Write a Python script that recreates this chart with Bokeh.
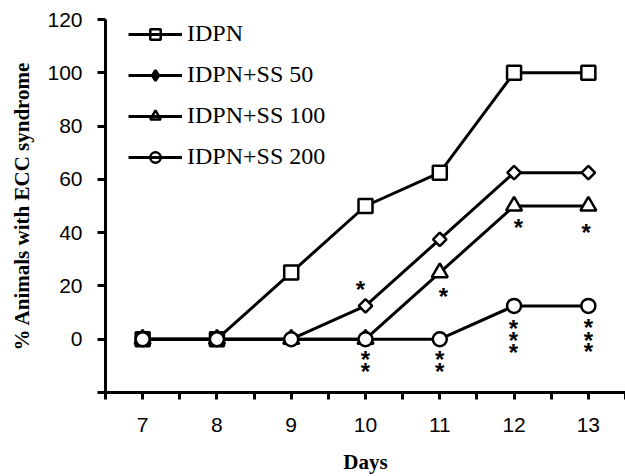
import math
from bokeh.plotting import figure
from bokeh.models import Range1d, FixedTicker, Legend, LegendItem, ColumnDataSource
from bokeh.core.properties import value
from bokeh.embed import file_html
from bokeh.resources import INLINE

# ---- data ----
days = [7, 8, 9, 10, 11, 12, 13]
idpn = [0, 0, 25, 50, 62.5, 100, 100]
ss50 = [0, 0, 0, 12.5, 37.5, 62.5, 62.5]
ss100 = [0, 0, 0, 0, 25, 50, 50]
ss200 = [0, 0, 0, 0, 0, 12.5, 12.5]
series_names = ["IDPN", "IDPN+SS 50", "IDPN+SS 100", "IDPN+SS 200"]

# significance asterisks (x, y)
sig_x = [9.93, 10, 10, 11.05, 11, 11, 12.06, 11.99, 11.99, 11.99, 12.97, 13, 13, 13]
sig_y = [19.3, -6.7, -11.2, 16.8, -6.7, -11.2, 42.6, 4.9, 0.3, -4.4, 40.9, 5.2, 0.3, -3.9]
sig_t = ["*"] * len(sig_x)

y_ticks = [-20, 0, 20, 40, 60, 80, 100, 120]
x_ticks = [7, 8, 9, 10, 11, 12, 13]
x_minor = [6.5, 7.5, 8.5, 9.5, 10.5, 11.5, 12.5, 13.5]

p = figure(width=625, height=476, output_backend="svg", toolbar_location=None,
           x_range=Range1d(6.5, 13.5), y_range=Range1d(-20, 120),
           min_border_left=105, min_border_right=0, min_border_top=19, min_border_bottom=83)
p.outline_line_color = None
p.grid.visible = False
p.background_fill_color = "white"
p.border_fill_color = "white"

# axes
for ax in (p.xaxis[0], p.yaxis[0]):
    ax.axis_line_width = 3
    ax.axis_line_color = "black"
    ax.major_tick_line_width = 3
    ax.minor_tick_line_width = 3
    ax.major_tick_in = 0
    ax.minor_tick_in = 0
    ax.major_label_text_font = "Liberation Sans"
    ax.major_label_text_font_size = "21px"
    ax.major_label_text_color = "black"
    ax.axis_label_text_font = "Liberation Serif"
    ax.axis_label_text_font_style = "bold"
    ax.axis_label_text_font_size = "21px"
    ax.axis_label_text_color = "black"

p.xaxis.ticker = FixedTicker(ticks=x_ticks, minor_ticks=x_minor)
p.xaxis.major_tick_out = 7
p.xaxis.minor_tick_out = 7
p.xaxis.major_label_standoff = 18
p.xaxis.axis_label = "Days"
p.xaxis.axis_label_standoff = 15

p.yaxis.ticker = FixedTicker(ticks=y_ticks, minor_ticks=[])
p.yaxis.major_tick_out = 8
p.yaxis.minor_tick_out = 0
p.yaxis.major_label_standoff = 15
p.yaxis.major_label_overrides = {-20: ""}
p.yaxis.axis_label = "% Animals with ECC syndrome"
p.yaxis.axis_label_standoff = 10

# series
all_vals = [idpn, ss50, ss100, ss200]
plot_markers = [("square", 14, 0.0), ("square", 9.5, math.pi / 4), ("triangle", 16, 0.0), ("circle", 14, 0.0)]
for vals in all_vals:
    src = ColumnDataSource(dict(x=days, y=vals))
    p.line("x", "y", source=src, line_color="black", line_width=3)
for vals, (mk, sz, ang) in zip(all_vals, plot_markers):
    src = ColumnDataSource(dict(x=days, y=vals))
    p.scatter("x", "y", source=src, marker=mk, size=sz, angle=ang,
              fill_color="white", line_color="black", line_width=2.5)

# significance marks
p.text(x=sig_x, y=sig_y, text=sig_t, text_align="center", text_baseline="middle",
       text_font=value("Liberation Sans"), text_font_style="bold",
       text_font_size="24px", text_color="black", y_offset=2)

# legend (style differs from the plotted markers)
legend_markers = [("square", None), ("diamond", "black"), ("triangle", None), ("circle", None)]
items = []
for name, (mk, fc) in zip(series_names, legend_markers):
    hidden = ColumnDataSource(dict(x=[float("nan")], y=[float("nan")]))
    lr = p.line("x", "y", source=hidden, line_color="black", line_width=3)
    sr = p.scatter("x", "y", source=hidden, marker=mk, fill_color=fc if fc else "white",
                   fill_alpha=1 if fc else 0, line_color="black", line_width=2.5)
    items.append(LegendItem(label=name, renderers=[lr, sr]))

legend = Legend(items=items, location=(23, 222), orientation="vertical",
                glyph_width=54, glyph_height=26, label_height=26, spacing=14,
                padding=0, margin=0, label_standoff=5,
                label_text_font="Liberation Serif", label_text_font_size="24px",
                label_text_color="black", label_text_baseline="middle",
                border_line_color=None, background_fill_alpha=0)
p.add_layout(legend, "center")

open("out.html", "w").write(file_html(p, INLINE))
